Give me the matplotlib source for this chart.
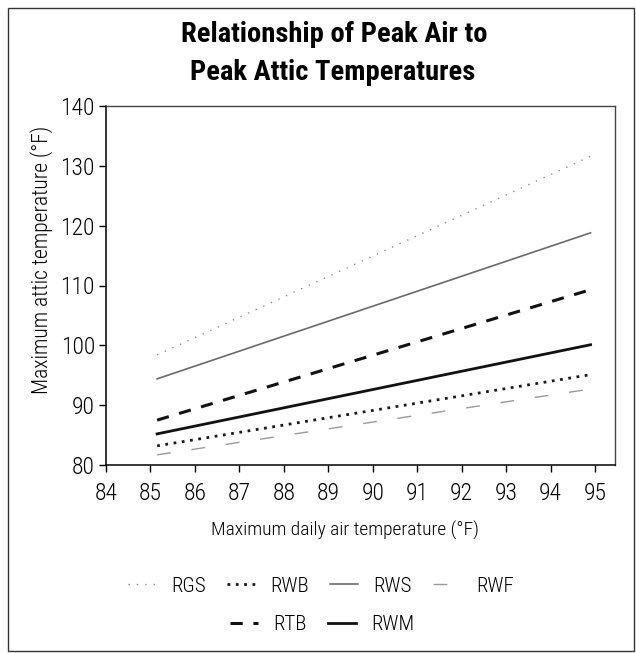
import matplotlib
matplotlib.use("Agg")
import matplotlib.pyplot as plt
from matplotlib import font_manager
from matplotlib.patches import Rectangle

# data
air_temp = [85.15, 94.9]
rgs = [98.4, 131.6]
rwb = [83.2, 95.1]
rws = [94.4, 118.8]
rwf = [81.7, 92.7]
rtb = [87.5, 109.3]
rwm = [85.2, 100.1]

x_ticks = list(range(84, 96))
y_ticks = list(range(80, 141, 10))


def pick_font():
    '''ищем самый узкий из установленных шрифтов'''
    fonts = font_manager.fontManager.ttflist
    names = {f.name for f in fonts}
    for cand in ['Liberation Sans Narrow', 'Roboto Condensed', 'Open Sans Condensed',
                 'Noto Sans Condensed', 'DejaVu Sans Condensed']:
        if cand in names:
            return cand, 'normal'
    for f in fonts:
        if f.name in ('Noto Sans', 'DejaVu Sans', 'Open Sans', 'Roboto') and \
                str(f.stretch) in ('condensed', 'semi-condensed', 'extra-condensed', '75', '87.5'):
            return f.name, 'condensed'
    return 'DejaVu Sans', 'normal'


FONT, STRETCH = pick_font()
plt.rcParams['font.family'] = [FONT, 'DejaVu Sans']
plt.rcParams['font.stretch'] = STRETCH
plt.rcParams['font.weight'] = 'light'


def main():
    fig = plt.figure(figsize=(6.36, 6.53), dpi=100)
    ax = fig.add_axes([106 / 636, 1 - 465 / 653, (615 - 106) / 636, (465 - 106) / 653])

    # the six series, styled like the scanned original
    l_rgs, = ax.plot(air_temp, rgs, color='#8a8a8a', lw=1.0, ls=(0, (1, 5)), label='RGS')
    l_rwb, = ax.plot(air_temp, rwb, color='#1a1a1a', lw=2.0, ls=(0, (1, 2)), label='RWB')
    l_rws, = ax.plot(air_temp, rws, color='#6a6a6a', lw=1.2, ls='-', label='RWS')
    l_rwf, = ax.plot(air_temp, rwf, color='#9a9a9a', lw=1.0, ls=(0, (10, 15)), label='RWF')
    l_rtb, = ax.plot(air_temp, rtb, color='#111111', lw=2.2, ls=(0, (4, 3.5)), label='RTB')
    l_rwm, = ax.plot(air_temp, rwm, color='#111111', lw=2.0, ls='-', label='RWM')

    ax.set_xlim(84, 95.45)
    ax.set_ylim(80, 140)
    ax.set_xticks(x_ticks)
    ax.set_yticks(y_ticks)
    ax.tick_params(axis='both', direction='out', length=5, width=1, labelsize=17)
    ax.tick_params(axis='x', pad=7)
    ax.tick_params(axis='y', pad=3)
    for side in ['left', 'bottom']:
        ax.spines[side].set_color('black')
        ax.spines[side].set_linewidth(1.1)
    for side in ['top', 'right']:
        ax.spines[side].set_color('#444444')
        ax.spines[side].set_linewidth(1.0)

    fig.text(345 / 636, 1 - 530 / 653, 'Maximum daily air temperature (°F)',
             ha='center', va='center', fontsize=14)
    fig.text(42 / 636, 1 - 260 / 653, 'Maximum attic temperature (°F)',
             ha='center', va='center', rotation=90, fontsize=15.5)

    fig.text(334 / 636, 1 - 34 / 653, 'Relationship of Peak Air to',
             ha='center', va='center', fontsize=20.5, fontweight='bold')
    fig.text(333 / 636, 1 - 72 / 653, 'Peak Attic Temperatures',
             ha='center', va='center', fontsize=20.5, fontweight='bold')

    leg_opts = dict(frameon=False, fontsize=15, handlelength=1.35,
                    handletextpad=0.75, columnspacing=1.0, loc='center')
    fig.legend([l_rgs, l_rwb, l_rws, l_rwf], ['RGS', 'RWB', 'RWS', 'RWF'], ncol=4,
               bbox_to_anchor=(321 / 636, 1 - 586 / 653), **leg_opts)
    fig.legend([l_rtb, l_rwm], ['RTB', 'RWM'], ncol=2,
               bbox_to_anchor=(322 / 636, 1 - 625 / 653), **leg_opts)

    # thin frame around the whole figure
    fig.patches.append(Rectangle((8 / 636, 2 / 653), 626 / 636, 643 / 653,
                                 transform=fig.transFigure, fill=False,
                                 edgecolor='#333333', lw=1.0))

    fig.savefig('out.png', dpi=100)


if __name__ == "__main__":
    main()
